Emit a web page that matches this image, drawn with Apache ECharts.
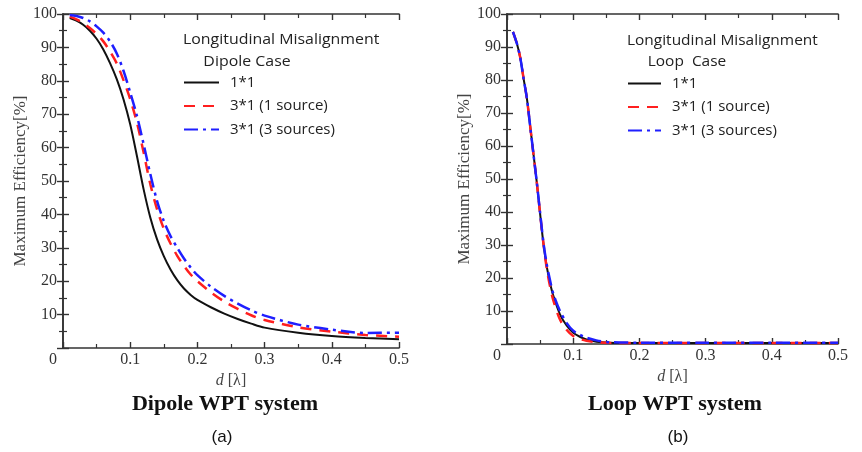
<!DOCTYPE html>
<html><head><meta charset="utf-8">
<script src="https://cdn.jsdelivr.net/npm/echarts@6/dist/echarts.min.js"></script>
<style>html,body{margin:0;padding:0;background:#fff}#c{width:862px;height:452px}</style>
</head><body><div id="c"></div>
<script>
const seriesNames = ['1*1', '3*1 (1 source)', '3*1 (3 sources)'];

const dipoleD = [0.01, 0.02, 0.03, 0.04, 0.05, 0.06, 0.07, 0.08, 0.09, 0.1, 0.11, 0.12, 0.13, 0.14, 0.15, 0.16, 0.17, 0.18, 0.19, 0.2, 0.22, 0.24, 0.26, 0.28, 0.3, 0.35, 0.4, 0.45, 0.5];
const dipole11   = [98.8, 98.0, 96.8, 95.0, 92.6, 89.4, 85.3, 80.5, 74.5, 67.0, 57.5, 47.5, 39.0, 32.5, 27.5, 23.5, 20.3, 17.8, 15.9, 14.4, 12.2, 10.3, 8.7, 7.3, 6.1, 4.6, 3.6, 3.0, 2.6];
const dipole31_1 = [99.2, 98.4, 97.3, 95.8, 94.0, 91.8, 88.8, 85.2, 80.2, 74.5, 67.5, 58.5, 49.0, 41.5, 35.7, 31.3, 27.6, 24.6, 22.0, 20.0, 16.7, 13.9, 11.7, 9.8, 8.4, 6.2, 4.9, 3.9, 3.4];
const dipole31_3 = [99.7, 99.4, 98.8, 97.8, 96.3, 94.4, 91.8, 88.2, 83.0, 76.5, 69.5, 61.0, 52.0, 44.0, 38.0, 33.5, 30.0, 26.8, 24.1, 21.8, 18.4, 15.6, 13.3, 11.3, 9.7, 7.0, 5.5, 4.5, 4.6];

const loopD = [0.009, 0.015, 0.02, 0.025, 0.03, 0.035, 0.04, 0.045, 0.05, 0.055, 0.06, 0.065, 0.07, 0.08, 0.09, 0.1, 0.11, 0.12, 0.135, 0.155, 0.2, 0.3, 0.4, 0.5];
const loop11   = [94.6, 91.0, 86.8, 80.5, 74.5, 66.0, 57.5, 49.0, 39.5, 30.5, 23.5, 18.5, 14.6, 9.0, 5.6, 3.4, 2.2, 1.4, 0.7, 0.4, 0.3, 0.3, 0.3, 0.3];
const loop31_1 = [94.6, 91.0, 86.8, 80.5, 74.5, 66.0, 57.5, 49.0, 39.5, 30.5, 23.0, 17.5, 13.2, 7.4, 4.3, 2.4, 1.5, 1.0, 0.55, 0.35, 0.3, 0.3, 0.3, 0.3];
const loop31_3 = [94.6, 91.0, 86.8, 80.5, 74.5, 66.0, 57.5, 49.0, 39.8, 30.8, 24.2, 19.3, 15.2, 10.0, 6.4, 4.0, 2.8, 1.9, 1.1, 0.55, 0.4, 0.35, 0.35, 0.35];

const xTickLabels = ['0', '0.1', '0.2', '0.3', '0.4', '0.5'];
const yTickLabels = ['', '10', '20', '30', '40', '50', '60', '70', '80', '90', '100'];

const pair = (xs, ys) => xs.map((x, i) => [x, ys[i]]);

const axisColor = '#333';
const labelFont = {fontFamily: '"Liberation Serif", "Times New Roman", serif', fontSize: 16, color: '#333'};

function xAx(grid, pos) {
  const bottom = pos === 'bottom';
  return {
    type: 'value', gridIndex: grid, position: pos, min: 0, max: 0.5, interval: 0.1,
    axisLine: {show: true, onZero: false, lineStyle: {color: axisColor, width: 1.6}},
    axisTick: {show: true, inside: true, length: 6, lineStyle: {color: axisColor, width: 1.4}},
    minorTick: {show: true, splitNumber: 2, length: 4, lineStyle: {color: axisColor, width: 1.2}},
    splitLine: {show: false},
    axisLabel: bottom ? Object.assign({
      show: true, margin: 4,
      formatter: v => {
        const idx = Math.round(v / 0.1);
        return idx === 0 ? '{z|' + xTickLabels[0] + '}' : xTickLabels[idx];
      },
      rich: {z: Object.assign({padding: [0, 20, 0, 0]}, labelFont)}
    }, labelFont) : {show: false},
    name: bottom ? '{i|d} [λ]' : '',
    nameLocation: 'middle', nameGap: 24,
    nameTextStyle: {fontFamily: '"Liberation Serif", serif', fontSize: 16, color: '#444',
      rich: {i: {fontFamily: '"Liberation Serif", serif', fontSize: 16, fontStyle: 'italic', color: '#444'}}}
  };
}
function yAx(grid, pos, gap) {
  const left = pos === 'left';
  return {
    type: 'value', gridIndex: grid, position: pos, min: 0, max: 100, interval: 10,
    axisLine: {show: true, lineStyle: {color: axisColor, width: 1.6}},
    axisTick: {show: true, inside: true, length: 6, lineStyle: {color: axisColor, width: 1.4}},
    minorTick: {show: true, splitNumber: 2, length: 4, lineStyle: {color: axisColor, width: 1.2}},
    splitLine: {show: false},
    axisLabel: left ? Object.assign({show: true, margin: 6,
      formatter: v => yTickLabels[Math.round(v / 10)]}, labelFont) : {show: false},
    name: left ? 'Maximum Efficiency[%]' : '',
    nameLocation: 'middle', nameGap: gap,
    nameTextStyle: {fontFamily: '"Liberation Serif", serif', fontSize: 17, color: '#444'}
  };
}

const styles = [
  {color: '#111111', lineStyle: {color: '#111111', width: 2, type: 'solid'}},
  {color: '#ff1f1f', lineStyle: {color: '#ff1f1f', width: 2.5, type: [11, 8]}},
  {color: '#1f1fff', lineStyle: {color: '#1f1fff', width: 2.5, type: [14, 5, 3, 5]}}
];

function mk(name, xs, ys, k, xi, yi) {
  return {
    type: 'line', name: name, xAxisIndex: xi, yAxisIndex: yi,
    data: pair(xs, ys), smooth: 0.3, symbol: 'none', showSymbol: false,
    color: styles[k].color, lineStyle: styles[k].lineStyle, z: 2 + k
  };
}

const legendText = {fontFamily: '"Open Sans", Lato, sans-serif', fontSize: 15, color: '#222', padding: [0, 0, 0, 6]};
const headFont = '15px "Open Sans", Lato, sans-serif';

function txt(t, x, y, font, align, fill, sx) {
  return {type: 'text', x: x, y: y, scaleX: sx || 1, silent: true,
    style: {text: t, font: font, fill: fill || '#222', textAlign: align || 'left', align: align || 'left',
      textVerticalAlign: 'middle', verticalAlign: 'middle'}};
}

const chart = echarts.init(document.getElementById('c'), null, {renderer: 'canvas'});
chart.setOption({
  animation: false,
  backgroundColor: '#fff',
  grid: [
    {left: 63, top: 14, width: 336, height: 334},
    {left: 507, top: 14, width: 331, height: 330}
  ],
  xAxis: [xAx(0, 'bottom'), xAx(0, 'top'), xAx(1, 'bottom'), xAx(1, 'top')],
  yAxis: [yAx(0, 'left', 34), yAx(0, 'right', 0), yAx(1, 'left', 32), yAx(1, 'right', 0)],
  legend: [
    {data: seriesNames, orient: 'vertical', left: 183, top: 75, padding: 0, itemWidth: 35, itemHeight: 14, itemGap: 8.5,
      itemStyle: {opacity: 0}, textStyle: legendText, selectedMode: false},
    {data: seriesNames, orient: 'vertical', left: 627, top: 76, padding: 0, itemWidth: 33, itemHeight: 14, itemGap: 8.5,
      itemStyle: {opacity: 0}, textStyle: legendText, selectedMode: false}
  ],
  series: [
    mk(seriesNames[0], dipoleD, dipole11, 0, 0, 0),
    mk(seriesNames[1], dipoleD, dipole31_1, 1, 0, 0),
    mk(seriesNames[2], dipoleD, dipole31_3, 2, 0, 0),
    mk(seriesNames[0], loopD, loop11, 0, 2, 2),
    mk(seriesNames[1], loopD, loop31_1, 1, 2, 2),
    mk(seriesNames[2], loopD, loop31_3, 2, 2, 2)
  ],
  graphic: [
    txt('Longitudinal Misalignment', 183, 40, headFont, 'left', '#222', 1.06),
    txt('Dipole Case', 247, 62, headFont, 'center', '#222', 1.06),
    txt('Longitudinal Misalignment', 627, 41, headFont, 'left', '#222', 1.03),
    txt('Loop  Case', 687, 62, headFont, 'center', '#222', 1.03),
    txt('Dipole WPT system', 225, 405, 'bold 21px "Liberation Serif", serif', 'center', '#111', 1.05),
    txt('(a)', 222, 437, '17px "Liberation Sans", sans-serif', 'center', '#111'),
    txt('Loop WPT system', 675, 405, 'bold 21px "Liberation Serif", serif', 'center', '#111', 1.05),
    txt('(b)', 678, 437, '17px "Liberation Sans", sans-serif', 'center', '#111')
  ]
});
</script>
</body></html>
